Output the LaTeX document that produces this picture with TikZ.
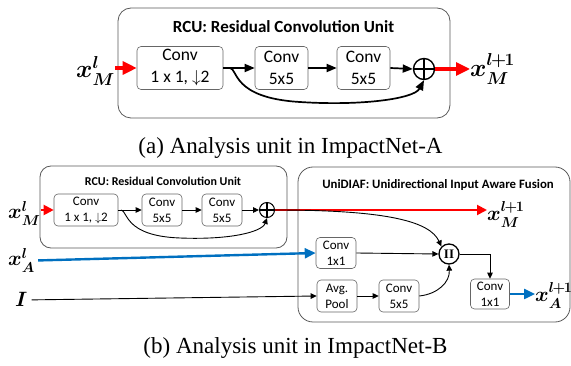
\documentclass[tikz,border=0pt]{standalone}
\usepackage{amsmath, amssymb}
\usepackage{fontspec}
\setmainfont{Carlito}
\newfontfamily\capfont{Liberation Serif}
\DeclareMathSizes{27}{27}{17}{13}
\DeclareMathSizes{22}{22}{14}{10}
\usepackage{tikz}
\usetikzlibrary{positioning,arrows.meta,shapes.geometric}
\definecolor{unitred}{RGB}{255,0,0}
\definecolor{unitblue}{RGB}{0,112,192}

\begin{document}
\begin{tikzpicture}[
x=1pt, y=-1pt,
unitbox/.style={draw=black!65, line width=0.8pt, rounded corners=13pt},
convbox/.style={draw=black!60, line width=0.6pt, rounded corners=4pt, align=center, inner sep=0pt},
bigbox/.style={convbox, minimum width=53pt, minimum height=43pt, font=\fontsize{17.5}{22}\selectfont},
smallbox/.style={convbox, minimum width=40pt, minimum height=32pt, font=\fontsize{13}{16}\selectfont},
sumnode/.style={circle, draw, inner sep=0pt, path picture={
\draw[line width=1.1pt] (path picture bounding box.north) -- (path picture bounding box.south)
(path picture bounding box.west) -- (path picture bounding box.east);}},
bigsym/.style={inner sep=0pt, anchor=base west, font=\boldmath\fontsize{27}{27}\selectfont},
sym/.style={inner sep=0pt, anchor=base west, font=\boldmath\fontsize{22}{22}\selectfont},
title/.style={inner sep=0pt, font=\bfseries\fontsize{17}{17}\selectfont},
caption/.style={inner sep=0pt, font=\capfont\fontsize{23}{23}\selectfont},
redarrow/.style={draw=unitred, line width=3.2pt, -{Triangle[length=14pt,width=13pt]}},
redthin/.style={draw=unitred, line width=2pt, -{Triangle[length=10pt,width=10pt]}},
bluearrow/.style={draw=unitblue, line width=2.4pt, -{Triangle[length=11pt,width=10pt]}},
bigarrow/.style={line width=1.7pt, -{Triangle[length=10pt,width=8pt]}},
thinarrow/.style={line width=0.9pt, -{Triangle[length=6pt,width=5.5pt]}}
]
\useasboundingbox (0,0) rectangle (571,366);

% (a) RCU
\draw[unitbox] (118,8) rectangle (450,118);
\node[title] (titlea) at (283.5,27) {RCU: Residual Convolution Unit};

\node[bigbox, minimum width=86pt] (conv1a) at (180,68) {Conv\\1 x 1, $\downarrow$2};
\node[bigbox] (conv2a) at (281.5,68) {Conv\\5x5};
\node[bigbox] (conv3a) at (363.5,68) {Conv\\5x5};
\node[sumnode, line width=1.4pt, minimum size=21pt] (suma) at (424,69) {};
\coordinate (splita) at (230,68);

\node[bigsym] (xma) at (76,78) {$x_M^l$};
\node[bigsym] (xma1) at (470,77) {$x_M^{l\mkern-1.5mu+\mkern-1.5mu1}$};

\draw[redarrow] (conv1a.west -| xma.east) -- (conv1a.west);
\draw[bigarrow] (conv1a.east) -- (conv2a.west);
\draw[bigarrow] (conv2a.east) -- (conv3a.west);
\draw[bigarrow] (conv3a.east) -- (suma.west);
\draw[bigarrow] (splita) .. controls (238,69) and (232,98) .. (300,102)
  .. controls (360,106) and (414,99) .. (suma.south);
\draw[redarrow] (suma.east) -- (suma.east -| xma1.west);

\node[caption] (capa) at (290.5,148) {(a) Analysis unit in ImpactNet-A};

% (b) RCU + UniDIAF
\draw[unitbox, rounded corners=11pt] (40,166) rectangle (287,248);
\node[title, font=\bfseries\fontsize{12}{12}\selectfont] (titleb) at (163,181) {RCU: Residual Convolution Unit};
\draw[unitbox, rounded corners=15pt] (298,167) rectangle (570,322);
\node[title, font=\bfseries\fontsize{12.8}{12.8}\selectfont] (titlec) at (438,185) {UniDIAF: Unidirectional Input Aware Fusion};

\node[smallbox, minimum width=64pt] (conv1b) at (86,210) {Conv\\1 x 1, $\downarrow$2};
\node[smallbox] (conv2b) at (162,210) {Conv\\5x5};
\node[smallbox] (conv3b) at (222,210) {Conv\\5x5};
\node[sumnode, line width=1pt, minimum size=15pt] (sumb) at (267,210) {};
\coordinate (splitb) at (121,210);

\node[smallbox, minimum height=31pt] (conva) at (336,253) {Conv\\1x1};
\node[smallbox] (pool) at (337,296) {Avg.\\Pool};
\node[smallbox] (convi) at (399,296) {Conv\\5x5};
\node[circle, draw, line width=1.3pt, minimum size=20pt, inner sep=0pt,
  font=\capfont\bfseries\fontsize{13}{13}\selectfont] (cat) at (449,254) {II};
\node[smallbox, minimum width=39pt, minimum height=30pt] (convo) at (490,294) {Conv\\1x1};

\node[sym] (xmb) at (8,219) {$x_M^l$};
\node[sym] (xab) at (8,266) {$x_A^l$};
\node[sym] (ib) at (15,307) {$I$};
\node[sym] (xmb1) at (487,221) {$x_M^{l\mkern-1.5mu+\mkern-1.5mu1}$};
\node[sym] (xab1) at (535,302) {$x_A^{l\mkern-1.5mu+\mkern-1.5mu1}$};

\draw[redthin] (conv1b.west -| xmb.east) -- (conv1b.west);
\draw[thinarrow] (conv1b.east) -- (conv2b.west);
\draw[thinarrow] (conv2b.east) -- (conv3b.west);
\draw[thinarrow] (conv3b.east) -- (sumb.west);
\draw[thinarrow] (splitb) .. controls (128,211) and (124,236) .. (180,238)
  .. controls (230,240) and (262,232) .. (sumb.south);
\draw[redthin] (sumb.east) -- (sumb.east -| xmb1.west);
\draw[thinarrow] (sumb.east) .. controls (390,210) and (430,222) .. (cat.north west);

\draw[bluearrow] ([xshift=3pt]xab.east) -- (conva.west);
\draw[thinarrow] (conva.east) -- (cat.west);
\draw[thinarrow] ([xshift=4pt]ib.east) -- (pool.west);
\draw[thinarrow] (pool.east) -- (convi.west);
\draw[thinarrow] (convi.east) .. controls (438,294) and (450,282) .. (cat.south);
\draw[thinarrow] (cat.east) -| (convo.north);
\draw[bluearrow] (convo.east) -- (convo.east -| xab1.west);

\node[caption] (capb) at (295.5,348) {(b) Analysis unit in ImpactNet-B};
\end{tikzpicture}
\end{document}
